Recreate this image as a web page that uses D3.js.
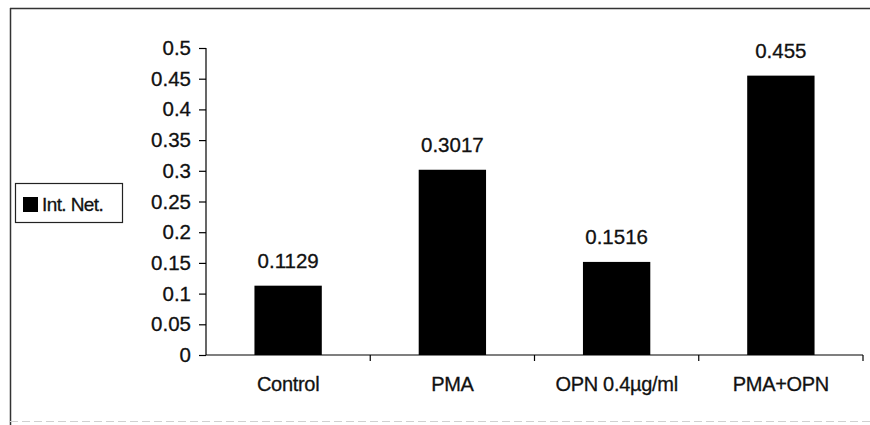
<!DOCTYPE html>
<html>
<head>
<meta charset="utf-8">
<script src="https://cdn.jsdelivr.net/npm/d3@7"></script>
<style>
  html, body { margin: 0; padding: 0; background: #fff; }
  svg { display: block; font-family: Arial, "Liberation Sans", sans-serif; }
  text { stroke: #111; stroke-width: 0.3px; }
</style>
</head>
<body>
<svg id="chart" width="870" height="425"></svg>
<script>
const categories = ["Control", "PMA", "OPN 0.4µg/ml", "PMA+OPN"];
const values = [0.1129, 0.3017, 0.1516, 0.455];
const valueLabels = ["0.1129", "0.3017", "0.1516", "0.455"];
const yTicks = [0, 0.05, 0.1, 0.15, 0.2, 0.25, 0.3, 0.35, 0.4, 0.45, 0.5];
const yTickLabels = ["0", "0.05", "0.1", "0.15", "0.2", "0.25", "0.3", "0.35", "0.4", "0.45", "0.5"];
const seriesName = "Int. Net.";

const svg = d3.select("#chart");

// outer frame (scanned chart area border)
svg.append("line").attr("x1", 10).attr("y1", 8.5).attr("x2", 870).attr("y2", 8.5)
  .attr("stroke", "#333").attr("stroke-width", 1.5);
svg.append("line").attr("x1", 10.5).attr("y1", 8).attr("x2", 10.5).attr("y2", 425)
  .attr("stroke", "#333").attr("stroke-width", 1.5);
svg.append("line").attr("x1", 10).attr("y1", 421.5).attr("x2", 870).attr("y2", 421.5)
  .attr("stroke", "#d0d0d0").attr("stroke-width", 1).attr("stroke-dasharray", "8,4");

const x0 = 206, x1 = 863, yZero = 355, yMax = 48;

const x = d3.scaleBand().domain(categories).range([x0, x1])
  .paddingInner(0.59).paddingOuter(0.295);
const y = d3.scaleLinear().domain([0, 0.5]).range([yZero, yMax]);

// bars
svg.append("g").selectAll("rect").data(categories).join("rect")
  .attr("x", d => x(d))
  .attr("y", (d, i) => y(values[i]))
  .attr("width", x.bandwidth())
  .attr("height", (d, i) => y(0) - y(values[i]))
  .attr("fill", "#000");

// value labels
svg.append("g").selectAll("text").data(categories).join("text")
  .attr("x", d => x(d) + x.bandwidth() / 2)
  .attr("y", (d, i) => y(values[i]) - 18)
  .attr("text-anchor", "middle")
  .attr("font-size", 20.5)
  .attr("fill", "#111")
  .text((d, i) => valueLabels[i]);

// y axis
const yAxis = d3.axisLeft(y).tickValues(yTicks)
  .tickFormat((d, i) => yTickLabels[i]).tickSize(7).tickPadding(8);
const gy = svg.append("g").attr("transform", `translate(${x0},0)`).call(yAxis);
gy.select(".domain").attr("stroke", "#000").attr("stroke-width", 1.2).attr("d", `M-0,${yMax}V${yZero}`);
gy.selectAll(".tick line").attr("stroke", "#000").attr("stroke-width", 1.2);
gy.selectAll(".tick text").attr("font-size", 20.5).attr("fill", "#111")
  .attr("font-family", "Arial, 'Liberation Sans', sans-serif");

// x axis: labels at band centers, ticks at band boundaries
const xAxis = d3.axisBottom(x).tickSize(0).tickPadding(22);
const gx = svg.append("g").attr("transform", `translate(0,${yZero})`).call(xAxis);
gx.select(".domain").attr("stroke", "#000").attr("stroke-width", 1.2).attr("d", `M${x0},0H${x1}`);
gx.selectAll(".tick text").attr("font-size", 20).attr("fill", "#111")
  .attr("letter-spacing", "-0.3")
  .attr("font-family", "Arial, 'Liberation Sans', sans-serif");
const boundaries = d3.range(1, categories.length + 1).map(i => x0 + i * x.step());
gx.append("g").selectAll("line").data(boundaries).join("line")
  .attr("x1", d => d).attr("x2", d => d).attr("y1", 0).attr("y2", 6)
  .attr("stroke", "#000").attr("stroke-width", 1.2);

// legend
const lg = svg.append("g");
lg.append("rect").attr("x", 15.5).attr("y", 183.5).attr("width", 107).attr("height", 39)
  .attr("fill", "#fff").attr("stroke", "#222").attr("stroke-width", 1.2);
lg.append("rect").attr("x", 23).attr("y", 197).attr("width", 15).attr("height", 15).attr("fill", "#000");
lg.append("text").attr("x", 42).attr("y", 211).attr("font-size", 19)
  .attr("letter-spacing", "-0.6").attr("fill", "#111").text(seriesName);
</script>
</body>
</html>
